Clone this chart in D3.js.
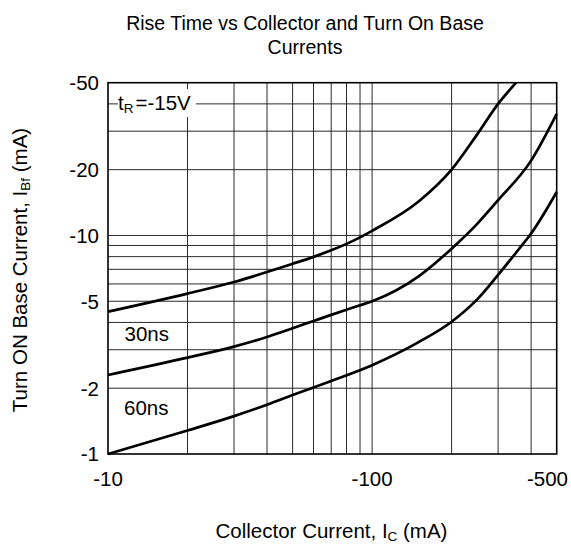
<!DOCTYPE html>
<html><head><meta charset="utf-8">
<script src="https://cdn.jsdelivr.net/npm/d3@7"></script>
<style>body{margin:0;background:#fff;} svg{display:block;} text{font-family:"Liberation Sans",Arial,sans-serif;fill:#000;}</style>
</head><body>
<svg id="c" width="571" height="545"></svg>
<script>
// ---- data ----
const xTicks = [10, 100, 500];
const xTickLabels = ["-10", "-100", "-500"];
const yTicks = [1, 2, 5, 10, 20, 50];
const yTickLabels = ["-1", "-2", "-5", "-10", "-20", "-50"];
const xGrid = [20, 30, 40, 50, 60, 70, 80, 90, 100, 200, 300, 400];
const yGrid = [2, 3, 4, 5, 6, 7, 8, 9, 10, 20, 30, 40];

const curveTopX = [10, 20, 30, 40, 50, 60, 70, 80, 90, 100, 150, 200, 250, 300, 351];
const curveTopY = [4.48, 5.42, 6.12, 6.8, 7.42, 7.98, 8.55, 9.15, 9.8, 10.5, 14.3, 20, 29, 40, 50];
const curveMidX = [10, 20, 30, 40, 50, 60, 70, 80, 90, 100, 150, 200, 250, 300, 400, 500];
const curveMidY = [2.3, 2.76, 3.1, 3.43, 3.76, 4.06, 4.33, 4.57, 4.79, 5.0, 6.5, 8.7, 11.3, 14.5, 22, 36];
const curveLowX = [10, 20, 30, 40, 50, 70, 100, 150, 200, 250, 300, 358, 400, 500];
const curveLowY = [1.0, 1.28, 1.49, 1.68, 1.86, 2.16, 2.55, 3.25, 4.03, 5.1, 6.6, 8.6, 10.2, 15.8];

const titleLines = ["Rise Time vs Collector and Turn On Base", "Currents"];
const labelA = "30ns";
const labelB = "60ns";

// ---- layout ----
const L = 108, R = 556.7, T = 82.7, B = 454;
const svg = d3.select("#c");
const x = d3.scaleLog().domain([10, 500]).range([L, R]);
const y = d3.scaleLog().domain([1, 50]).range([B, T]);

// grid
const g = svg.append("g");
g.selectAll(".vx").data(xGrid).join("line")
  .attr("x1", d => x(d)).attr("x2", d => x(d)).attr("y1", T).attr("y2", B)
  .attr("stroke", "#2a2a2a").attr("stroke-width", 1);
g.selectAll(".hy").data(yGrid).join("line")
  .attr("y1", d => y(d)).attr("y2", d => y(d)).attr("x1", L).attr("x2", R)
  .attr("stroke", "#2a2a2a").attr("stroke-width", 1);

// frame
svg.append("rect").attr("x", L).attr("y", T).attr("width", R - L).attr("height", B - T)
  .attr("fill", "none").attr("stroke", "#000").attr("stroke-width", 1.6);

// curves
const line = d3.line().x(d => x(d[0])).y(d => y(d[1])).curve(d3.curveMonotoneX);
[[curveTopX, curveTopY], [curveMidX, curveMidY], [curveLowX, curveLowY]].forEach(([xs, ys]) => {
  svg.append("path").datum(xs.map((v, i) => [v, ys[i]]))
    .attr("d", line).attr("fill", "none").attr("stroke", "#000").attr("stroke-width", 2.7);
});

// annotation t_R = -15V with white background
svg.append("rect").attr("x", 118).attr("y", 89).attr("width", 78).attr("height", 28).attr("fill", "#fff");
const tr = svg.append("text").attr("x", 118).attr("y", 110).attr("font-size", 20.5);
tr.append("tspan").text("t");
tr.append("tspan").attr("font-size", 13.5).attr("dy", 3).text("R");
tr.append("tspan").attr("dy", -3).attr("dx", 2).text("=-15V");

svg.append("text").attr("x", 124.5).attr("y", 340.5).attr("font-size", 20.5).text(labelA);
svg.append("text").attr("x", 124).attr("y", 415).attr("font-size", 20.5).text(labelB);

// tick labels
svg.selectAll(".xt").data(xTicks).join("text")
  .attr("x", (d, i) => i === xTicks.length - 1 ? 568 : x(d))
  .attr("y", 485.5)
  .attr("text-anchor", (d, i) => i === xTicks.length - 1 ? "end" : "middle")
  .attr("font-size", 20.5)
  .text((d, i) => xTickLabels[i]);
svg.selectAll(".yt").data(yTicks).join("text")
  .attr("x", 99).attr("y", d => y(d)).attr("dy", "0.36em")
  .attr("text-anchor", "end").attr("font-size", 20.5)
  .text((d, i) => yTickLabels[i]);

// titles
svg.selectAll(".tt").data(titleLines).join("text")
  .attr("x", 305).attr("y", (d, i) => 30 + i * 23.5)
  .attr("text-anchor", "middle").attr("font-size", 19.5).text(d => d);

const xt = svg.append("text").attr("x", 331.5).attr("y", 538).attr("text-anchor", "middle").attr("font-size", 20.5);
xt.append("tspan").text("Collector Current, I");
xt.append("tspan").attr("font-size", 13.5).attr("dy", 3).text("C");
xt.append("tspan").attr("dy", -3).text(" (mA)");

const yt = svg.append("text").attr("transform", "translate(27,270) rotate(-90)").attr("text-anchor", "middle").attr("font-size", 20.5);
yt.append("tspan").text("Turn ON Base Current, I");
yt.append("tspan").attr("font-size", 13.5).attr("dy", 3).text("Bf");
yt.append("tspan").attr("dy", -3).text(" (mA)");
</script>
</body></html>
